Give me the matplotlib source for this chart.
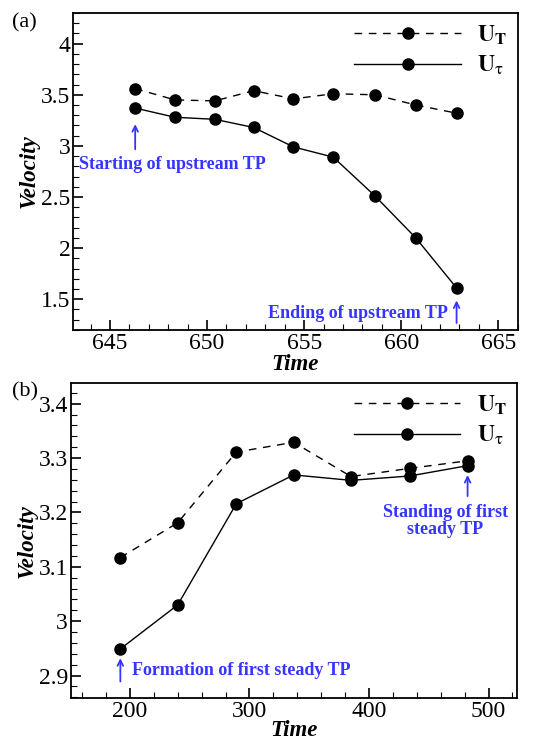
import matplotlib
matplotlib.use("Agg")
import matplotlib.pyplot as plt
from matplotlib.ticker import MultipleLocator

plt.rcParams['font.family'] = ['Liberation Serif', 'DejaVu Serif']
plt.rcParams['mathtext.fontset'] = 'stix'

# ---- data panel (a)
time_a = [646.3, 648.35, 650.4, 652.4, 654.45, 656.5, 658.65, 660.75, 662.85]
UT_a = [3.56, 3.45, 3.44, 3.54, 3.46, 3.51, 3.50, 3.40, 3.32]
Utau_a = [3.37, 3.28, 3.26, 3.18, 2.99, 2.89, 2.51, 2.10, 1.61]
xticks_a = [645, 650, 655, 660, 665]
yticks_a = [1.5, 2, 2.5, 3, 3.5, 4]
yticklabels_a = ['1.5', '2', '2.5', '3', '3.5', '4']

# ---- data panel (b)
time_b = [192, 240, 289, 337, 385, 434, 482.5]
UT_b = [3.117, 3.181, 3.311, 3.329, 3.266, 3.281, 3.295]
Utau_b = [2.949, 3.030, 3.216, 3.269, 3.259, 3.267, 3.286]
xticks_b = [200, 300, 400, 500]
yticks_b = [2.9, 3.0, 3.1, 3.2, 3.3, 3.4]
yticklabels_b = ['2.9', '3', '3.1', '3.2', '3.3', '3.4']

blue = '#3535ff'
dash = (0, (5.5, 4.8))
ms = 8
lab_T = r'$\mathbf{U}_\mathbf{T}$'
lab_tau = r'$\mathbf{U}_{\mathrm{\tau}}$'

fig = plt.figure(figsize=(5.45, 7.43), dpi=100)
axa = fig.add_axes([0.134, 0.556, 0.816, 0.4265])
axb = fig.add_axes([0.130, 0.060, 0.819, 0.4245])

def style(ax, xt, yt, ytl, xminor, yminor, lpad):
    ax.set_xticks(xt)
    ax.set_xticklabels([str(v) for v in xt])
    ax.set_yticks(yt)
    ax.set_yticklabels(ytl)
    ax.xaxis.set_minor_locator(MultipleLocator(xminor))
    ax.yaxis.set_minor_locator(MultipleLocator(yminor))
    ax.tick_params(which='both', direction='in', top=False, right=False, labelsize=17)
    ax.tick_params(which='major', length=7, width=1.2, pad=2)
    ax.tick_params(which='minor', length=4, width=0.8)
    for s in ax.spines.values():
        s.set_linewidth(1.3)
    ax.set_xlabel('Time', fontsize=16.5, fontweight='bold', style='italic', labelpad=lpad)
    ax.set_ylabel('Velocity', fontsize=16.5, fontweight='bold', style='italic', labelpad=1)

def legend(ax):
    ax.legend(loc='upper right', frameon=False, fontsize=17, handlelength=4.5,
              borderaxespad=0.15, labelspacing=0.3, handletextpad=0.7,
              borderpad=0.3)

# panel a
axa.plot(time_a, UT_a, color='black', lw=1.0, ls=dash, marker='o', ms=ms, label=lab_T)
axa.plot(time_a, Utau_a, color='black', lw=1.0, ls='-', marker='o', ms=ms, label=lab_tau)
axa.set_xlim(643.1, 666.0)
axa.set_ylim(1.2, 4.3)
style(axa, xticks_a, yticks_a, yticklabels_a, 1, 0.1, 0)
legend(axa)
axa.annotate('', xy=(time_a[0], 3.24), xytext=(time_a[0], 2.94),
             arrowprops=dict(arrowstyle='->', color=blue, lw=1.3))
axa.text(643.4, 2.82, 'Starting of upstream TP', color=blue, fontsize=13,
         fontweight='bold', ha='left', va='center')
axa.annotate('', xy=(time_a[-1], 1.515), xytext=(time_a[-1], 1.24),
             arrowprops=dict(arrowstyle='->', color=blue, lw=1.3))
axa.text(662.4, 1.36, 'Ending of upstream TP', color=blue, fontsize=13,
         fontweight='bold', ha='right', va='center')
fig.text(0.022, 0.969, '(a)', fontsize=16, ha='left', va='center')

# panel b
axb.plot(time_b, UT_b, color='black', lw=1.0, ls=dash, marker='o', ms=ms, label=lab_T)
axb.plot(time_b, Utau_b, color='black', lw=1.0, ls='-', marker='o', ms=ms, label=lab_tau)
axb.set_xlim(150.6, 524)
axb.set_ylim(2.858, 3.438)
style(axb, xticks_b, yticks_b, yticklabels_b, 20, 0.02, -1.5)
legend(axb)
axb.annotate('', xy=(time_b[0], 2.937), xytext=(time_b[0], 2.884),
             arrowprops=dict(arrowstyle='->', color=blue, lw=1.3))
axb.text(202, 2.910, 'Formation of first steady TP', color=blue, fontsize=13,
         fontweight='bold', ha='left', va='center')
axb.annotate('', xy=(time_b[-1], 3.274), xytext=(time_b[-1], 3.225),
             arrowprops=dict(arrowstyle='->', color=blue, lw=1.3))
axb.text(464, 3.185, 'Standing of first\nsteady TP', color=blue, fontsize=13,
         fontweight='bold', ha='center', va='center', linespacing=1.0)
fig.text(0.022, 0.472, '(b)', fontsize=16, ha='left', va='center')

fig.savefig('out.png', dpi=100)
